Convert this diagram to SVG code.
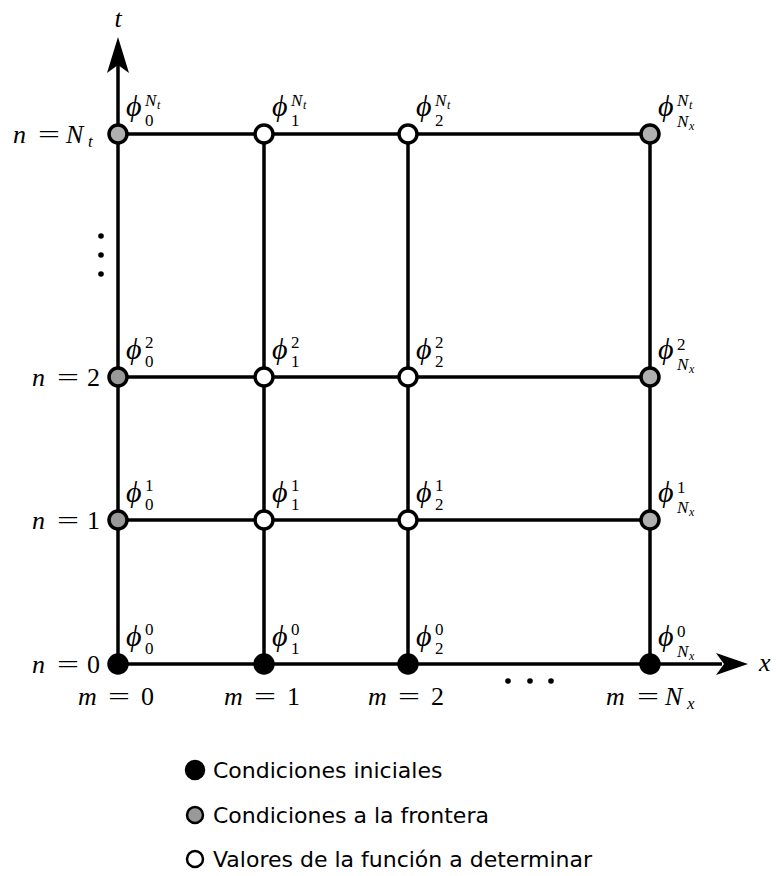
<svg xmlns="http://www.w3.org/2000/svg" width="776" height="876" viewBox="0 0 776 876">
<style>
.ln{stroke:#000;stroke-width:3.5;fill:none}
.nd{stroke:#000;stroke-width:3.5}
.ini{fill:#000}
.bnd{fill:#b0b0b0}
.bndl{fill:#999}
.unk{fill:#fff}
.m{font-family:"Liberation Serif",serif;font-style:italic;font-size:26px;fill:#000}
.r{font-family:"Liberation Serif",serif;font-size:26px;fill:#000}
.ph{font-family:"Liberation Serif",serif;font-style:italic;font-size:30px;fill:#000}
.sb{font-family:"Liberation Serif",serif;font-size:17px;fill:#000}
.sbi{font-family:"Liberation Serif",serif;font-style:italic;font-size:17px;fill:#000}
.ssi{font-family:"Liberation Serif",serif;font-style:italic;font-size:12px;fill:#000}
.lg{font-family:"DejaVu Sans",sans-serif;font-size:22px;fill:#000}
</style>
<g id="connectors">
<line class="ln" x1="118" y1="134" x2="650" y2="134"/>
<line class="ln" x1="118" y1="377" x2="650" y2="377"/>
<line class="ln" x1="118" y1="520" x2="650" y2="520"/>
<line class="ln" x1="118" y1="664" x2="722" y2="664"/>
<line class="ln" x1="118" y1="664" x2="118" y2="62"/>
<line class="ln" x1="264" y1="134" x2="264" y2="664"/>
<line class="ln" x1="408" y1="134" x2="408" y2="664"/>
<line class="ln" x1="650" y1="134" x2="650" y2="664"/>
<path d="M118,37 L129,73 L118,65 L107,73 Z" fill="#000"/>
<path d="M748,664 L716,675 L724,664 L716,653 Z" fill="#000"/>
</g>
<g id="axis-labels">
<text class="m" x="118" y="27" text-anchor="middle">t</text>
<text class="m" x="759" y="671">x</text>
<circle cx="101" cy="236" r="2.8"/>
<circle cx="101" cy="255" r="2.8"/>
<circle cx="101" cy="274" r="2.8"/>
<circle cx="508" cy="681" r="2.8"/>
<circle cx="530" cy="681" r="2.8"/>
<circle cx="551" cy="681" r="2.8"/>
</g>
<g id="row-labels">
<text class="m" x="13" y="143">n</text><text class="r" x="38" y="143" textLength="22" lengthAdjust="spacingAndGlyphs">=</text><text class="m" x="66" y="143">N</text><text class="sbi" x="88" y="147">t</text>
<text class="m" x="32" y="386">n</text><text class="r" x="57" y="386" textLength="22" lengthAdjust="spacingAndGlyphs">=</text><text class="r" x="87" y="386">2</text>
<text class="m" x="32" y="529">n</text><text class="r" x="57" y="529" textLength="22" lengthAdjust="spacingAndGlyphs">=</text><text class="r" x="87" y="529">1</text>
<text class="m" x="32" y="673">n</text><text class="r" x="57" y="673" textLength="22" lengthAdjust="spacingAndGlyphs">=</text><text class="r" x="87" y="673">0</text>
</g>
<g id="col-labels">
<text class="m" x="78" y="705">m</text><text class="r" x="108" y="705" textLength="22" lengthAdjust="spacingAndGlyphs">=</text><text class="r" x="141" y="705">0</text>
<text class="m" x="224" y="705">m</text><text class="r" x="254" y="705" textLength="22" lengthAdjust="spacingAndGlyphs">=</text><text class="r" x="287" y="705">1</text>
<text class="m" x="368" y="705">m</text><text class="r" x="398" y="705" textLength="22" lengthAdjust="spacingAndGlyphs">=</text><text class="r" x="431" y="705">2</text>
<text class="m" x="606" y="705">m</text><text class="r" x="637" y="705" textLength="22" lengthAdjust="spacingAndGlyphs">=</text><text class="m" x="665" y="705">N</text><text class="sbi" x="687" y="709">x</text>
</g>
<!-- row N_t -->
<g id="n-0-Nt"><circle class="nd bnd" cx="118" cy="134" r="9"/>
<text class="ph" x="126" y="116">ϕ</text><text class="sb" x="145" y="126">0</text><text class="sbi" x="145" y="106">N</text><text class="ssi" x="157" y="109">t</text></g>
<g id="n-1-Nt"><circle class="nd unk" cx="264" cy="134" r="9"/>
<text class="ph" x="272" y="116">ϕ</text><text class="sb" x="291" y="126">1</text><text class="sbi" x="291" y="106">N</text><text class="ssi" x="303" y="109">t</text></g>
<g id="n-2-Nt"><circle class="nd unk" cx="408" cy="134" r="9"/>
<text class="ph" x="416" y="116">ϕ</text><text class="sb" x="435" y="126">2</text><text class="sbi" x="435" y="106">N</text><text class="ssi" x="447" y="109">t</text></g>
<g id="n-Nx-Nt"><circle class="nd bnd" cx="650" cy="134" r="9"/>
<text class="ph" x="658" y="116">ϕ</text><text class="sbi" x="677" y="127">N</text><text class="ssi" x="689" y="130">x</text><text class="sbi" x="677" y="106">N</text><text class="ssi" x="689" y="109">t</text></g>
<!-- row 2 -->
<g id="n-0-2"><circle class="nd bndl" cx="118" cy="377" r="9"/>
<text class="ph" x="126" y="359">ϕ</text><text class="sb" x="145" y="367">0</text><text class="sb" x="145" y="348">2</text></g>
<g id="n-1-2"><circle class="nd unk" cx="264" cy="377" r="9"/>
<text class="ph" x="272" y="359">ϕ</text><text class="sb" x="291" y="367">1</text><text class="sb" x="291" y="348">2</text></g>
<g id="n-2-2"><circle class="nd unk" cx="408" cy="377" r="9"/>
<text class="ph" x="416" y="359">ϕ</text><text class="sb" x="435" y="367">2</text><text class="sb" x="435" y="348">2</text></g>
<g id="n-Nx-2"><circle class="nd bnd" cx="650" cy="377" r="9"/>
<text class="ph" x="658" y="359">ϕ</text><text class="sbi" x="677" y="370">N</text><text class="ssi" x="689" y="373">x</text><text class="sb" x="677" y="350">2</text></g>
<!-- row 1 -->
<g id="n-0-1"><circle class="nd bndl" cx="118" cy="520" r="9"/>
<text class="ph" x="126" y="502">ϕ</text><text class="sb" x="145" y="510">0</text><text class="sb" x="145" y="491">1</text></g>
<g id="n-1-1"><circle class="nd unk" cx="264" cy="520" r="9"/>
<text class="ph" x="272" y="502">ϕ</text><text class="sb" x="291" y="510">1</text><text class="sb" x="291" y="491">1</text></g>
<g id="n-2-1"><circle class="nd unk" cx="408" cy="520" r="9"/>
<text class="ph" x="416" y="502">ϕ</text><text class="sb" x="435" y="510">2</text><text class="sb" x="435" y="491">1</text></g>
<g id="n-Nx-1"><circle class="nd bnd" cx="650" cy="520" r="9"/>
<text class="ph" x="658" y="502">ϕ</text><text class="sbi" x="677" y="513">N</text><text class="ssi" x="689" y="516">x</text><text class="sb" x="677" y="493">1</text></g>
<!-- row 0 -->
<g id="n-0-0"><circle class="nd ini" cx="118" cy="664" r="9"/>
<text class="ph" x="126" y="646">ϕ</text><text class="sb" x="145" y="654">0</text><text class="sb" x="145" y="635">0</text></g>
<g id="n-1-0"><circle class="nd ini" cx="264" cy="664" r="9"/>
<text class="ph" x="272" y="646">ϕ</text><text class="sb" x="291" y="654">1</text><text class="sb" x="291" y="635">0</text></g>
<g id="n-2-0"><circle class="nd ini" cx="408" cy="664" r="9"/>
<text class="ph" x="416" y="646">ϕ</text><text class="sb" x="435" y="654">2</text><text class="sb" x="435" y="635">0</text></g>
<g id="n-Nx-0"><circle class="nd ini" cx="650" cy="664" r="9"/>
<text class="ph" x="658" y="646">ϕ</text><text class="sbi" x="677" y="657">N</text><text class="ssi" x="689" y="660">x</text><text class="sb" x="677" y="637">0</text></g>
<g id="legend">
<circle cx="195" cy="770" r="9" fill="#000" stroke="#000" stroke-width="2.5"/>
<text class="lg" x="213" y="778">Condiciones iniciales</text>
<circle cx="195" cy="815" r="8" fill="#999" stroke="#000" stroke-width="2.5"/>
<text class="lg" x="213" y="823">Condiciones a la frontera</text>
<circle cx="195" cy="859" r="8" fill="#fff" stroke="#000" stroke-width="2.5"/>
<text class="lg" x="213" y="867">Valores de la función a determinar</text>
</g>
</svg>
